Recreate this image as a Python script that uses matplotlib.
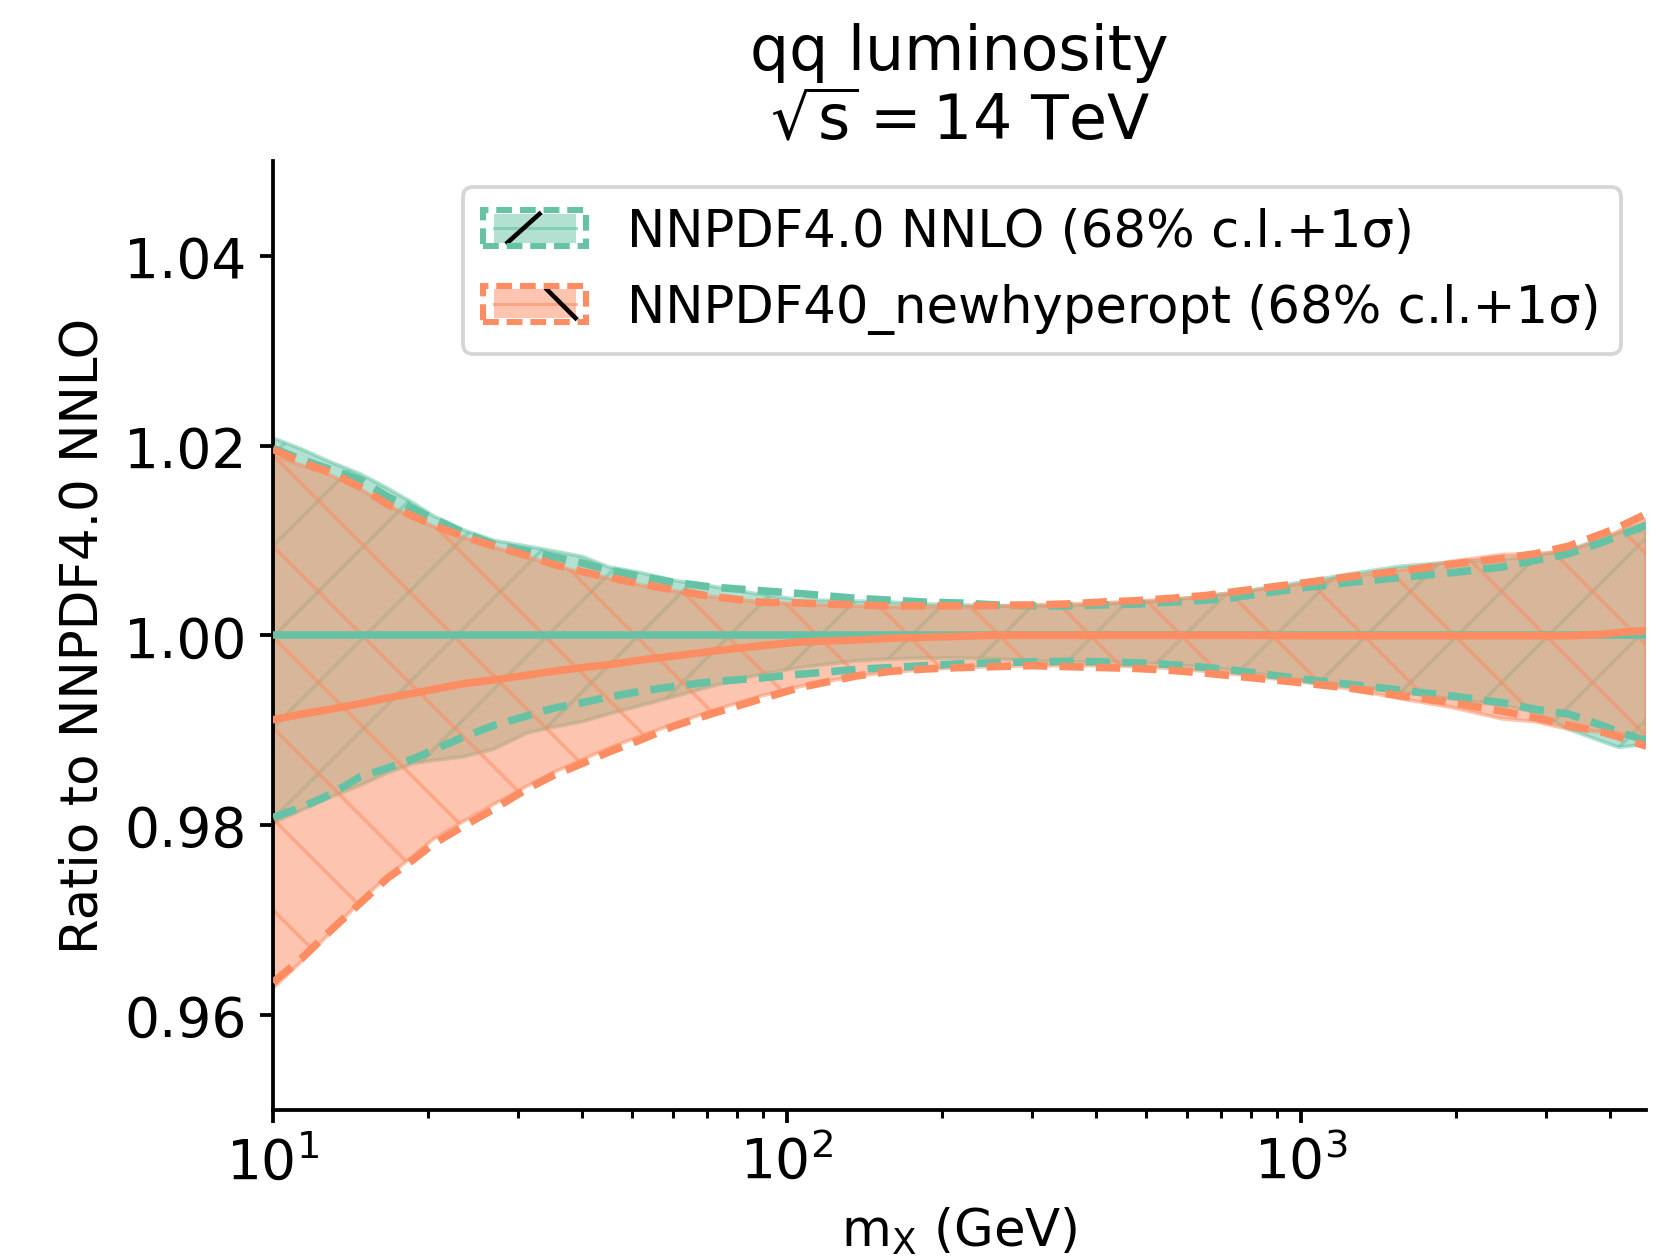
import numpy as np
import matplotlib
matplotlib.use("Agg")
import matplotlib.pyplot as plt
from matplotlib.patches import Rectangle
from matplotlib.lines import Line2D
from matplotlib.legend_handler import HandlerBase
from matplotlib.ticker import FixedLocator, FormatStrFormatter
from matplotlib.colors import to_rgba

plt.rcParams['mathtext.default'] = 'regular'

# invariant mass grid (GeV)
mx = [10, 11.4, 12.9, 14.8, 16.7, 18.8, 20.5, 23.5, 26.9, 31.2,
      35, 40, 45, 52, 60, 71, 89, 106, 136, 159,
      186, 218, 255, 299, 349, 409, 479, 560, 655, 743,
      1003, 1255, 1570, 1966, 2460, 2857, 3318, 3852, 4151, 4700]

# NNPDF4.0 NNLO (reference) -- ratio to itself
ref_central = [1.0] * len(mx)
ref_cl_hi = [1.0208, 1.0196, 1.0183, 1.0170, 1.0155, 1.0139, 1.0126, 1.0111, 1.0100, 1.0094,
             1.0089, 1.0083, 1.0072, 1.0066, 1.0058, 1.0052, 1.0043, 1.00375, 1.0036, 1.0035,
             1.0033, 1.0032, 1.0031, 1.0031, 1.0031, 1.0033, 1.0035, 1.0037, 1.0042, 1.0045,
             1.0056, 1.0065, 1.0073, 1.0077, 1.0080, 1.0084, 1.0090, 1.0102, 1.0108, 1.0110]
ref_cl_lo = [0.9802, 0.9816, 0.9829, 0.9842, 0.9855, 0.9865, 0.9868, 0.9872, 0.9880, 0.9897,
             0.9903, 0.9909, 0.9917, 0.9926, 0.9935, 0.9946, 0.9959, 0.9966, 0.9973, 0.9975,
             0.9976, 0.9976, 0.9975, 0.9973, 0.9972, 0.9972, 0.9971, 0.9969, 0.9966, 0.9963,
             0.9953, 0.9947, 0.9940, 0.9933, 0.9926, 0.9919, 0.9901, 0.9888, 0.9882, 0.9885]
ref_sd_hi = [1.0197, 1.0185, 1.0175, 1.0164, 1.0146, 1.0133, 1.0123, 1.0108, 1.0096, 1.0089,
             1.0083, 1.0076, 1.0069, 1.0062, 1.0056, 1.0051, 1.0047, 1.0044, 1.0039, 1.0037,
             1.0035, 1.0034, 1.0032, 1.0031, 1.0031, 1.0032, 1.0033, 1.0035, 1.0037, 1.0040,
             1.0050, 1.0056, 1.0061, 1.0066, 1.0072, 1.0079, 1.0086, 1.0098, 1.0105, 1.0116]
ref_sd_lo = [0.9808, 0.9819, 0.9832, 0.9851, 0.9860, 0.9870, 0.9879, 0.9893, 0.9905, 0.9915,
             0.9923, 0.9929, 0.9935, 0.9941, 0.9946, 0.9951, 0.9955, 0.9959, 0.9964, 0.9966,
             0.9968, 0.9970, 0.9971, 0.9972, 0.99725, 0.9972, 0.9971, 0.9969, 0.9966, 0.9963,
             0.9954, 0.9948, 0.9942, 0.9936, 0.9929, 0.9922, 0.9917, 0.9905, 0.9898, 0.9889]

# NNPDF40_newhyperopt
new_central = [0.9911, 0.9917, 0.9922, 0.9928, 0.9934, 0.9939, 0.9943, 0.9949, 0.9953, 0.9958,
               0.9962, 0.9966, 0.9969, 0.9974, 0.9978, 0.9983, 0.9989, 0.9993, 0.9995, 0.9997,
               0.9998, 0.9999, 1.0000, 1.0000, 1.0000, 1.0000, 1.0000, 1.0000, 1.0000, 1.0000,
               0.99995, 0.99995, 0.99995, 0.99995, 0.99995, 0.99995, 0.99995, 1.0001, 1.0003, 1.0005]
new_cl_hi = [1.0190, 1.0179, 1.0169, 1.0154, 1.0137, 1.0124, 1.0115, 1.0103, 1.0093, 1.0083,
             1.0074, 1.0066, 1.0060, 1.0053, 1.0047, 1.0041, 1.0035, 1.0033, 1.0031, 1.0030,
             1.0030, 1.0030, 1.0031, 1.0032, 1.0033, 1.0034, 1.0036, 1.0038, 1.0041, 1.0045,
             1.0054, 1.0062, 1.0069, 1.0078, 1.0085, 1.0086, 1.0089, 1.0101, 1.0110, 1.0122]
new_cl_lo = [0.9628, 0.9657, 0.9686, 0.9720, 0.9746, 0.9768, 0.9785, 0.9804, 0.9822, 0.9841,
             0.9855, 0.9869, 0.9881, 0.9894, 0.9906, 0.9920, 0.9936, 0.9946, 0.9957, 0.9961,
             0.9964, 0.9966, 0.9967, 0.9968, 0.9968, 0.9968, 0.9967, 0.9965, 0.9962, 0.9959,
             0.9951, 0.9943, 0.9933, 0.9924, 0.9912, 0.9909, 0.9901, 0.9898, 0.9897, 0.9891]
new_sd_hi = [1.0196, 1.0182, 1.0172, 1.0156, 1.0138, 1.0125, 1.0116, 1.0104, 1.0094, 1.0084,
             1.0075, 1.0067, 1.0061, 1.0054, 1.0048, 1.0041, 1.0035, 1.0034, 1.0032, 1.0031,
             1.0031, 1.0031, 1.00315, 1.0032, 1.0033, 1.0035, 1.00365, 1.0039, 1.0042, 1.0046,
             1.0055, 1.0062, 1.0068, 1.0075, 1.0081, 1.0086, 1.0094, 1.0107, 1.0114, 1.0128]
new_sd_lo = [0.9634, 0.9660, 0.9688, 0.9718, 0.9744, 0.9764, 0.9780, 0.9799, 0.9817, 0.9838,
             0.9852, 0.9865, 0.9877, 0.9890, 0.9904, 0.9917, 0.9933, 0.9945, 0.9957, 0.9962,
             0.99645, 0.9966, 0.9967, 0.9968, 0.9967, 0.9966, 0.9965, 0.9963, 0.9960, 0.9957,
             0.9950, 0.9944, 0.9936, 0.9929, 0.9920, 0.9913, 0.9905, 0.9898, 0.9893, 0.9883]

labels = ['NNPDF4.0 NNLO (68% c.l.+1σ)', 'NNPDF40_newhyperopt (68% c.l.+1σ)']
colors = ['#66c2a5', '#fc8d62']
hatches = ['/', '\\']
yticks = [0.96, 0.98, 1.00, 1.02, 1.04]


# legend entry: filled box with one black hatch stroke, dashed frame round it
class Band:
    def __init__(self, color, hatch):
        self.color = color
        self.hatch = hatch


class BandHandler(HandlerBase):
    def create_artists(self, legend, orig_handle, xdescent, ydescent,
                       width, height, fontsize, trans):
        x0, y0 = -xdescent, -ydescent
        c = orig_handle.color
        ix, iy, iw, ih = x0 + 0.1 * width, y0 + 0.1 * height, 0.8 * width, 0.8 * height
        inner = Rectangle((ix, iy), iw, ih, facecolor=to_rgba(c, 0.5),
                          edgecolor='none', transform=trans)
        mid = Line2D([ix, ix + iw], [iy + ih / 2] * 2,
                     color=c, lw=0.8, alpha=0.6, transform=trans)
        if orig_handle.hatch == '/':
            xs = [ix + 0.17 * iw, ix + 0.56 * iw]
            ys = [iy, iy + ih]
        else:
            xs = [ix + 0.65 * iw, ix + iw]
            ys = [iy + ih, iy]
        stroke = Line2D(xs, ys, color='black', lw=1.2, transform=trans)
        outer = Rectangle((x0, y0), width, height, fill=False, edgecolor=c,
                          lw=1.6, linestyle=(0, (2.6, 1.3)), transform=trans)
        return [inner, mid, stroke, outer]


DPI = 273
fig = plt.figure(figsize=(1671 / DPI, 1261 / DPI), dpi=DPI)
ax = fig.add_axes([0.1634, 0.1193, 0.8219, 0.7522])

bands = [(ref_central, ref_cl_lo, ref_cl_hi, ref_sd_lo, ref_sd_hi),
         (new_central, new_cl_lo, new_cl_hi, new_sd_lo, new_sd_hi)]

# fills first, lines on top
for (cen, cl_lo, cl_hi, sd_lo, sd_hi), c, h in zip(bands, colors, hatches):
    ax.fill_between(mx, cl_lo, cl_hi, color=c, alpha=0.5, hatch=h, lw=1.0, zorder=1)
for (cen, cl_lo, cl_hi, sd_lo, sd_hi), c in zip(bands, colors):
    ax.plot(mx, cen, color=c, lw=2.0, zorder=3)
    ax.plot(mx, sd_hi, color=c, lw=2.0, ls=(0, (3.2, 1.6)), zorder=3)
    ax.plot(mx, sd_lo, color=c, lw=2.0, ls=(0, (3.2, 1.6)), zorder=3)

ax.set_xscale('log')
ax.set_xlim(10, 4700)
ax.set_ylim(0.95, 1.05)
ax.yaxis.set_major_locator(FixedLocator(yticks))
ax.yaxis.set_major_formatter(FormatStrFormatter('%.2f'))

for side in ['top', 'right']:
    ax.spines[side].set_visible(False)
for side in ['left', 'bottom']:
    ax.spines[side].set_linewidth(1.0)
ax.tick_params(which='major', labelsize=14.5, width=1.0, length=3.5)
ax.tick_params(which='minor', width=0.8, length=2)

ax.set_xlabel('m$_{\\mathrm{X}}$ (GeV)', fontsize=13.5)
ax.set_ylabel('Ratio to NNPDF4.0 NNLO', fontsize=13.6)
ax.set_title('qq luminosity\n$\\sqrt{s} = 14$ TeV', fontsize=16.3)

handles = [Band(c, h) for c, h in zip(colors, hatches)]
ax.legend(handles, labels, handler_map={Band: BandHandler()},
          loc='upper right', fontsize=13.5)

fig.savefig('out.png', dpi=DPI)
